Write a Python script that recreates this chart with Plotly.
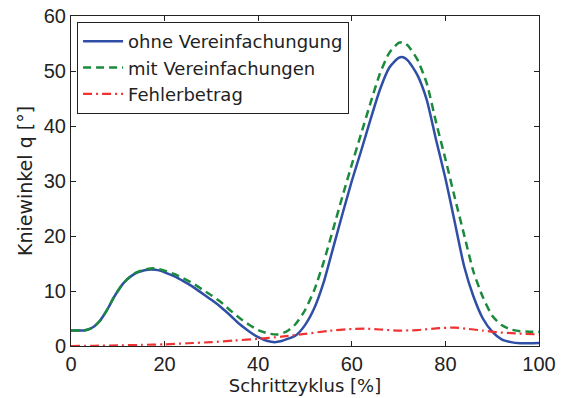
import plotly.graph_objects as go

# Schrittzyklus [%]
x_blue = [0, 2, 3, 4, 5, 6, 7, 8, 9, 10, 11, 12, 13, 14, 15, 16, 17, 18, 19, 20, 22, 24, 26, 28, 30, 32, 34, 36, 38, 40, 42, 43.5, 45, 46, 48, 50, 52, 54, 56, 58, 60, 62, 64, 66, 68, 70, 71, 72, 74, 76, 78, 80, 82, 84, 86, 88, 90, 92, 94, 96, 98, 100]
ohne = [2.8, 2.8, 2.85, 3.1, 3.6, 4.4, 5.6, 7.0, 8.6, 10.0, 11.2, 12.1, 12.8, 13.3, 13.6, 13.8, 13.9, 13.85, 13.7, 13.4, 12.7, 11.8, 10.8, 9.6, 8.4, 7.1, 5.6, 4.0, 2.7, 1.6, 0.9, 0.7, 0.9, 1.2, 1.9, 3.8, 6.9, 11.6, 17.8, 24.0, 30.0, 35.5, 41.2, 46.6, 50.6, 52.4, 52.5, 51.9, 49.3, 44.8, 37.5, 30.5, 22.5, 14.5, 9.0, 5.0, 2.6, 1.2, 0.7, 0.5, 0.5, 0.55]

x_green = [0, 2, 3, 4, 5, 6, 7, 8, 9, 10, 11, 12, 13, 14, 15, 16, 17, 18, 20, 22, 24, 26, 28, 30, 32, 34, 36, 38, 40, 42, 44, 46, 48, 50, 52, 54, 56, 58, 60, 62, 64, 66, 68, 70, 71, 72, 74, 76, 78, 80, 82, 84, 86, 88, 90, 92, 94, 96, 98, 100]
mit = [2.8, 2.8, 2.85, 3.1, 3.6, 4.4, 5.6, 7.0, 8.6, 10.0, 11.2, 12.1, 12.9, 13.4, 13.7, 13.95, 14.1, 14.1, 13.7, 13.1, 12.3, 11.4, 10.3, 9.2, 8.0, 6.5, 5.1, 3.9, 2.9, 2.3, 2.1, 2.6, 4.0, 6.5, 10.2, 15.3, 21.2, 27.2, 33.0, 38.6, 44.2, 49.5, 53.3, 55.1, 55.2, 54.6, 52.1, 47.8, 40.7, 34.0, 27.0, 20.2, 13.5, 8.9, 5.5, 3.8, 3.0, 2.7, 2.6, 2.6]

x_red = [0, 5, 10, 15, 20, 25, 30, 35, 40, 45, 50, 55, 60, 63, 66, 70, 74, 78, 82, 85, 88, 91, 95, 100]
fehler = [0.0, 0.05, 0.1, 0.2, 0.3, 0.5, 0.7, 1.0, 1.3, 1.7, 2.2, 2.75, 3.1, 3.15, 3.0, 2.8, 2.9, 3.2, 3.35, 3.1, 2.8, 2.5, 2.3, 2.1]

x_ticks = [0, 20, 40, 60, 80, 100]
y_ticks = [0, 10, 20, 30, 40, 50, 60]

TICK_FONT = "Liberation Sans, Arial, sans-serif"
TEXT_FONT = "DejaVu Sans, sans-serif"

fig = go.Figure()
fig.add_trace(go.Scatter(x=x_blue, y=ohne, mode="lines", name="ohne Vereinfachungung",
                         line=dict(color="#2f4fa6", width=2.5, shape="spline", smoothing=0.6)))
fig.add_trace(go.Scatter(x=x_green, y=mit, mode="lines", name="mit Vereinfachungen",
                         line=dict(color="#1b8a3c", width=2.5, dash="8px,5px", shape="spline", smoothing=0.6)))
fig.add_trace(go.Scatter(x=x_red, y=fehler, mode="lines", name="Fehlerbetrag",
                         line=dict(color="#f03232", width=2.2, dash="9px,4px,2px,4px", shape="spline", smoothing=0.6)))

axis_common = dict(showline=True, linecolor="#222", linewidth=1, mirror="ticks",
                   ticks="inside", ticklen=5, tickcolor="#222", showgrid=False, zeroline=False,
                   automargin=False,
                   tickfont=dict(family=TICK_FONT, size=20, color="#222"))

fig.update_xaxes(range=[0, 100], tickvals=x_ticks, **axis_common,
                 title=dict(text="Schrittzyklus [%]", font=dict(family=TEXT_FONT, size=18, color="#222"), standoff=1))
fig.update_yaxes(range=[0, 60], tickvals=y_ticks, **axis_common,
                 title=dict(text="Kniewinkel q [°]", font=dict(family=TEXT_FONT, size=19, color="#222"), standoff=6))

fig.update_layout(
    width=561, height=398,
    margin=dict(l=71, r=22, t=16, b=52),
    paper_bgcolor="white", plot_bgcolor="white",
    showlegend=True,
    legend=dict(x=0.013, y=0.982, xanchor="left", yanchor="top",
                bgcolor="white", bordercolor="#222", borderwidth=1,
                font=dict(family=TEXT_FONT, size=18, color="#222"),
                tracegroupgap=0, itemwidth=40),
)

fig.write_html("out.html")
